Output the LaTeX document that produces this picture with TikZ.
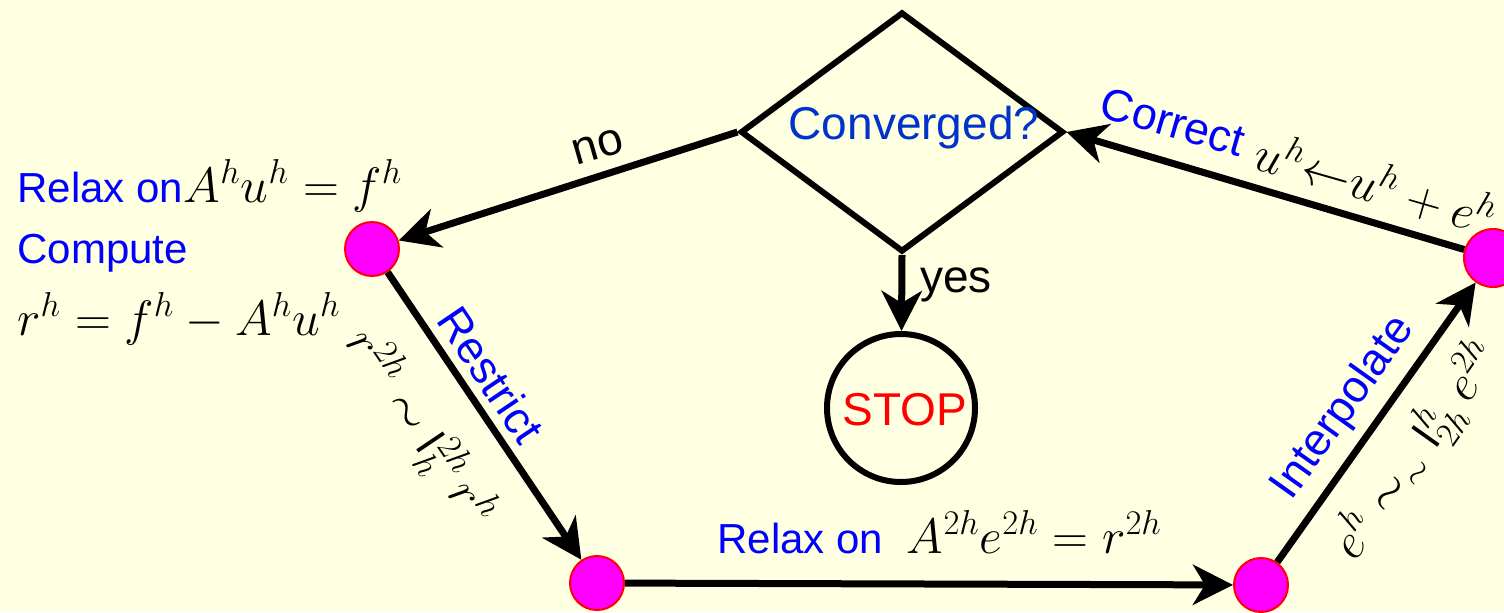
\documentclass[tikz,border=0pt]{standalone}
\usepackage{fontspec}
\newfontfamily\arial{Liberation Sans}
\usetikzlibrary{arrows.meta,shapes.geometric,positioning}
\definecolor{paper}{RGB}{255,255,225}
\definecolor{convblue}{RGB}{0,51,204}
\definecolor{pink}{RGB}{255,0,255}

\begin{document}
\begin{tikzpicture}[x=0.5pt, y=-0.5pt,
  flow/.style={line width=3.5pt, -{Stealth[length=20pt, width=20pt, inset=6pt]}},
  dot/.style={circle, fill=pink, draw=red, line width=1pt, minimum size=27pt, inner sep=0pt},
  bluetxt/.style={text=blue, font=\arial\fontsize{21}{25}\selectfont, inner sep=0pt},
  sidetxt/.style={text=blue, font=\arial\fontsize{22.5}{27}\selectfont, inner sep=0pt},
  plain/.style={font=\arial\fontsize{23}{27}\selectfont, inner sep=0pt},
  eqn/.style={font=\fontsize{23}{27}\selectfont, inner sep=0pt}]

  % Page
  \fill[paper] (0,0) rectangle (1504,612);
  \useasboundingbox (0,0) rectangle (1504,612);

  % Test and stop
  \node[diamond, draw, line width=3pt, minimum width=161.5pt, minimum height=120pt, inner sep=0pt] (conv) at (902,132) {};
  \node[plain, text=convblue] (convtxt) at (914,128) {Converged?};
  \node[circle, draw, line width=3pt, minimum size=74pt, inner sep=0pt] (stop) at (901,408) {};
  \node[plain, text=red] (stoptxt) at (905,410) {STOP};

  % Grid levels
  \node[dot] (c1) at (372,249) {};
  \node[dot] (c2) at (597,583) {};
  \node[dot] (c3) at (1261,585) {};
  \node[dot, minimum size=29pt] (c4) at (1493,258) {};

  % Cycle
  \draw[flow] (conv.west) -- (c1);
  \draw[flow] (conv.south) -- (stop);
  \draw[flow] (c1) -- (c2);
  \draw[flow] (c2) -- (c3);
  \draw[flow] (c3) -- (c4);
  \draw[flow] (c4) -- (conv.east);

  % Branch labels
  \node[plain, rotate=16] (no) at (598,147) {no};
  \node[plain, anchor=base west] (yes) at (920,292) {yes};

  % Fine grid
  \node[bluetxt, anchor=base west] (relaxh) at (17,202) {Relax on};
  \node[eqn, base right=0pt of relaxh] (eqh) {$A^h u^h = f^h$};
  \node[bluetxt, anchor=base west] (compute) at (17,263) {Compute};
  \node[eqn, anchor=base west] (resh) at (17,335) {$r^h = f^h - A^h u^h$};

  % Restriction
  \node[sidetxt, rotate=-56] (restrict) at (491,375) {Restrict};
  \node[eqn, rotate=-56] (restricteq) at (420,428) {$r^{2h} \sim \mathsf{I}^{2h}_{h}\, r^h$};

  % Coarse grid
  \node[bluetxt, anchor=base west] (relax2h) at (717,553) {Relax on};
  \node[eqn, base right=11.5pt of relax2h] (eq2h) {$A^{2h} e^{2h} = r^{2h}$};

  % Interpolation
  \node[sidetxt, rotate=54.6] (interp) at (1344,408) {Interpolate};
  \node[eqn, rotate=54.6] (interpeq) at (1417,451) {$e^h \sim_{\sim} \mathsf{I}^{h}_{2h}\, e^{2h}$};

  % Correction
  \node[sidetxt, rotate=-16] (correct) at (1173,122) {Correct};
  \node[eqn, rotate=-16] (correcteq) at (1376,184) {$u^h {\leftarrow} u^h + e^h$};
\end{tikzpicture}
\end{document}
